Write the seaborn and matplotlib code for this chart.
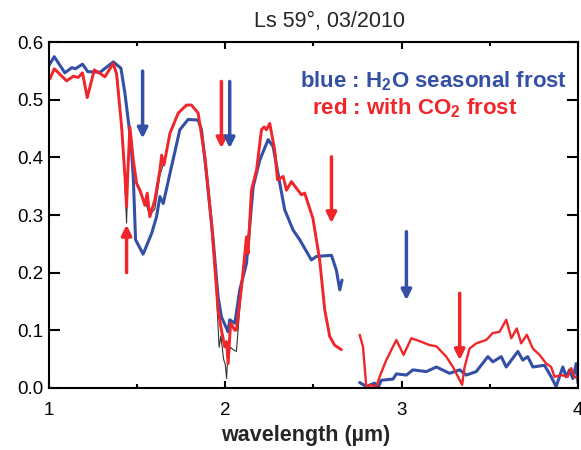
import matplotlib
matplotlib.use("Agg")
import matplotlib.pyplot as plt
import seaborn as sns
import pandas as pd

# ---------------- data ----------------
blue1_x = [1.00, 1.03, 1.09, 1.13, 1.15, 1.19, 1.22, 1.29, 1.365, 1.408, 1.431, 1.465, 1.478, 1.491, 1.534,
           1.582, 1.61, 1.629, 1.648, 1.686, 1.742, 1.789, 1.846, 1.865, 1.893, 1.931, 1.959, 1.978, 2.007,
           2.016, 2.025, 2.054, 2.082, 2.12, 2.158, 2.195, 2.243, 2.271, 2.309, 2.337, 2.384, 2.422, 2.488,
           2.517, 2.602, 2.63, 2.649, 2.662]
blue1_y = [0.56, 0.575, 0.547, 0.556, 0.554, 0.562, 0.549, 0.548, 0.566, 0.555, 0.511, 0.425, 0.367, 0.257, 0.232,
           0.268, 0.297, 0.332, 0.320, 0.372, 0.448, 0.466, 0.465, 0.448, 0.372, 0.257, 0.158, 0.123, 0.103,
           0.097, 0.118, 0.112, 0.170, 0.216, 0.349, 0.395, 0.431, 0.419, 0.355, 0.309, 0.274, 0.257, 0.222,
           0.228, 0.230, 0.204, 0.170, 0.187]
blue2_x = [2.762, 2.80, 2.847, 2.866, 2.885, 2.951, 2.97, 3.027, 3.064, 3.14, 3.197, 3.272, 3.329, 3.367, 3.423,
           3.489, 3.517, 3.565, 3.593, 3.659, 3.687, 3.715, 3.744, 3.81, 3.848, 3.876, 3.914, 3.933, 3.952,
           3.971, 3.99, 4.0]
blue2_y = [0.009, 0.002, 0.008, 0.0, 0.013, 0.015, 0.024, 0.022, 0.031, 0.028, 0.036, 0.025, 0.031, 0.022, 0.028,
           0.054, 0.045, 0.054, 0.036, 0.063, 0.048, 0.054, 0.036, 0.039, 0.019, 0.002, 0.036, 0.019, 0.031,
           0.016, 0.042, 0.008]

red1_x = [1.006, 1.03, 1.10, 1.138, 1.166, 1.19, 1.217, 1.257, 1.289, 1.317, 1.364, 1.383, 1.412, 1.431, 1.44,
          1.446, 1.459, 1.478, 1.497, 1.516, 1.544, 1.557, 1.572, 1.60, 1.629, 1.639, 1.652, 1.686, 1.733,
          1.78, 1.808, 1.846, 1.884, 1.922, 1.959, 1.978, 1.997, 2.007, 2.016, 2.03, 2.054, 2.063, 2.092,
          2.12, 2.129, 2.148, 2.177, 2.205, 2.22, 2.233, 2.252, 2.28, 2.296, 2.328, 2.347, 2.375, 2.432,
          2.45, 2.497, 2.535, 2.564, 2.592, 2.62, 2.649, 2.658]
red1_y = [0.537, 0.554, 0.533, 0.541, 0.539, 0.547, 0.504, 0.552, 0.546, 0.540, 0.563, 0.546, 0.453, 0.367, 0.314,
          0.367, 0.453, 0.396, 0.355, 0.343, 0.317, 0.338, 0.297, 0.326, 0.378, 0.404, 0.387, 0.442, 0.477,
          0.491, 0.491, 0.477, 0.401, 0.286, 0.135, 0.100, 0.071, 0.080, 0.042, 0.112, 0.100, 0.100, 0.175,
          0.262, 0.233, 0.343, 0.378, 0.448, 0.453, 0.448, 0.459, 0.413, 0.361, 0.367, 0.343, 0.358, 0.335,
          0.338, 0.294, 0.222, 0.135, 0.089, 0.074, 0.068, 0.066]
red2_x = [2.762, 2.781, 2.80, 2.819, 2.857, 2.875, 2.913, 2.97, 3.011, 3.055, 3.11, 3.159, 3.197, 3.253, 3.291,
          3.343, 3.357, 3.385, 3.423, 3.48, 3.517, 3.555, 3.593, 3.622, 3.653, 3.678, 3.71, 3.744, 3.782,
          3.82, 3.848, 3.867, 3.905, 3.942, 3.961, 3.98, 4.0]
red2_y = [0.092, 0.071, 0.0, 0.005, 0.002, 0.019, 0.048, 0.083, 0.057, 0.086, 0.080, 0.074, 0.072, 0.054, 0.036,
          0.005, 0.036, 0.068, 0.077, 0.083, 0.095, 0.097, 0.118, 0.086, 0.103, 0.077, 0.092, 0.068, 0.057,
          0.042, 0.036, 0.019, 0.022, 0.019, 0.034, 0.019, 0.016]

# thin unsmoothed spectrum visible under the red one
gray1_x = [1.365, 1.39, 1.41, 1.43, 1.44, 1.447, 1.46, 1.48, 1.50, 1.53, 1.55, 1.57, 1.60, 1.63, 1.65]
gray1_y = [0.560, 0.535, 0.455, 0.36, 0.286, 0.36, 0.45, 0.39, 0.35, 0.33, 0.32, 0.30, 0.31, 0.37, 0.39]
gray2_x = [1.93, 1.95, 1.965, 1.975, 1.99, 2.0, 2.007, 2.015, 2.03, 2.045, 2.063, 2.08, 2.10, 2.12]
gray2_y = [0.27, 0.16, 0.07, 0.09, 0.05, 0.04, 0.016, 0.06, 0.07, 0.066, 0.063, 0.13, 0.20, 0.25]

arrow_x    = [1.531, 1.44, 1.978, 2.025, 2.602, 3.027, 3.329]
arrow_tail = [0.550, 0.200, 0.532, 0.532, 0.401, 0.271, 0.164]
arrow_tip  = [0.433, 0.283, 0.416, 0.416, 0.286, 0.152, 0.048]
arrow_col  = ["blue", "red", "red", "blue", "red", "blue", "red"]

x_ticks = [1, 2, 3, 4]
x_minor = [1.5, 2.5, 3.5]
y_ticks = [0.0, 0.1, 0.2, 0.3, 0.4, 0.5, 0.6]

title = "Ls 59°, 03/2010"
xlabel = "wavelength (µm)"
label_blue = r"blue : H$_\mathbf{2}$O seasonal frost"
label_red = r"red : with CO$_\mathbf{2}$ frost"

BLUE = "#3450A6"
RED = "#F0262A"
colors = {"blue": BLUE, "red": RED}

# ---------------- style ----------------
sns.set_style("ticks")
plt.rcParams["font.family"] = ["Liberation Sans", "DejaVu Sans"]
plt.rcParams["mathtext.fontset"] = "custom"
plt.rcParams["mathtext.rm"] = "Liberation Sans"
plt.rcParams["mathtext.bf"] = "Liberation Sans:bold"

fig = plt.figure(figsize=(5.81, 4.5), dpi=100)
ax = fig.add_axes([0.0843, 0.1384, 0.9105, 0.7676])

def seg(x, y):
    return pd.DataFrame({"x": x, "y": y})

for gx, gy in [(gray1_x, gray1_y), (gray2_x, gray2_y)]:
    sns.lineplot(data=seg(gx, gy), x="x", y="y", ax=ax, color="#333333", lw=0.8,
                 sort=False, estimator=None)
for bx, by in [(blue1_x, blue1_y), (blue2_x, blue2_y)]:
    sns.lineplot(data=seg(bx, by), x="x", y="y", ax=ax, color=BLUE, lw=2.2,
                 sort=False, estimator=None)
sns.lineplot(data=seg(red1_x, red1_y), x="x", y="y", ax=ax, color=RED, lw=2.1,
             sort=False, estimator=None)
sns.lineplot(data=seg(red2_x, red2_y), x="x", y="y", ax=ax, color=RED, lw=1.7,
             sort=False, estimator=None)

for xa, t0, t1, c in zip(arrow_x, arrow_tail, arrow_tip, arrow_col):
    ax.annotate("", xy=(xa, t1), xytext=(xa, t0),
                arrowprops=dict(arrowstyle="-|>,head_width=0.3,head_length=0.6",
                                color=colors[c], lw=2.5, shrinkA=0, shrinkB=0))

ax.set_xlim(1, 4)
ax.set_ylim(0, 0.6)
ax.set_xticks(x_ticks)
ax.set_xticks(x_minor, minor=True)
ax.set_xticklabels([str(v) for v in x_ticks])
ax.set_yticks(y_ticks)
ax.set_yticklabels([f"{v:.1f}" for v in y_ticks])
ax.set_xlabel("")
ax.set_ylabel("")
for s in ax.spines.values():
    s.set_visible(True)
    s.set_linewidth(1.5)
    s.set_color("black")
ax.tick_params(axis="both", which="both", direction="in", top=True, right=True,
               width=1.5, colors="black")
ax.tick_params(axis="x", which="major", length=5, pad=10.5, labelsize=13.5)
ax.tick_params(axis="x", which="minor", length=3)
ax.tick_params(axis="y", which="major", length=8, pad=4, labelsize=13.5)

ax.text(0.4745, 0.886, label_blue, transform=ax.transAxes, color=BLUE, fontsize=16,
        fontweight="bold", ha="left", va="center")
ax.text(0.4966, 0.81, label_red, transform=ax.transAxes, color=RED, fontsize=16,
        fontweight="bold", ha="left", va="center")

fig.text(330 / 581, 1 - 22 / 450, title, ha="center", va="center", fontsize=15.5)
fig.text(306 / 581, 1 - 436 / 450, xlabel, ha="center", va="center", fontsize=15.5,
         fontweight="bold")

fig.savefig("out.png", dpi=100)
